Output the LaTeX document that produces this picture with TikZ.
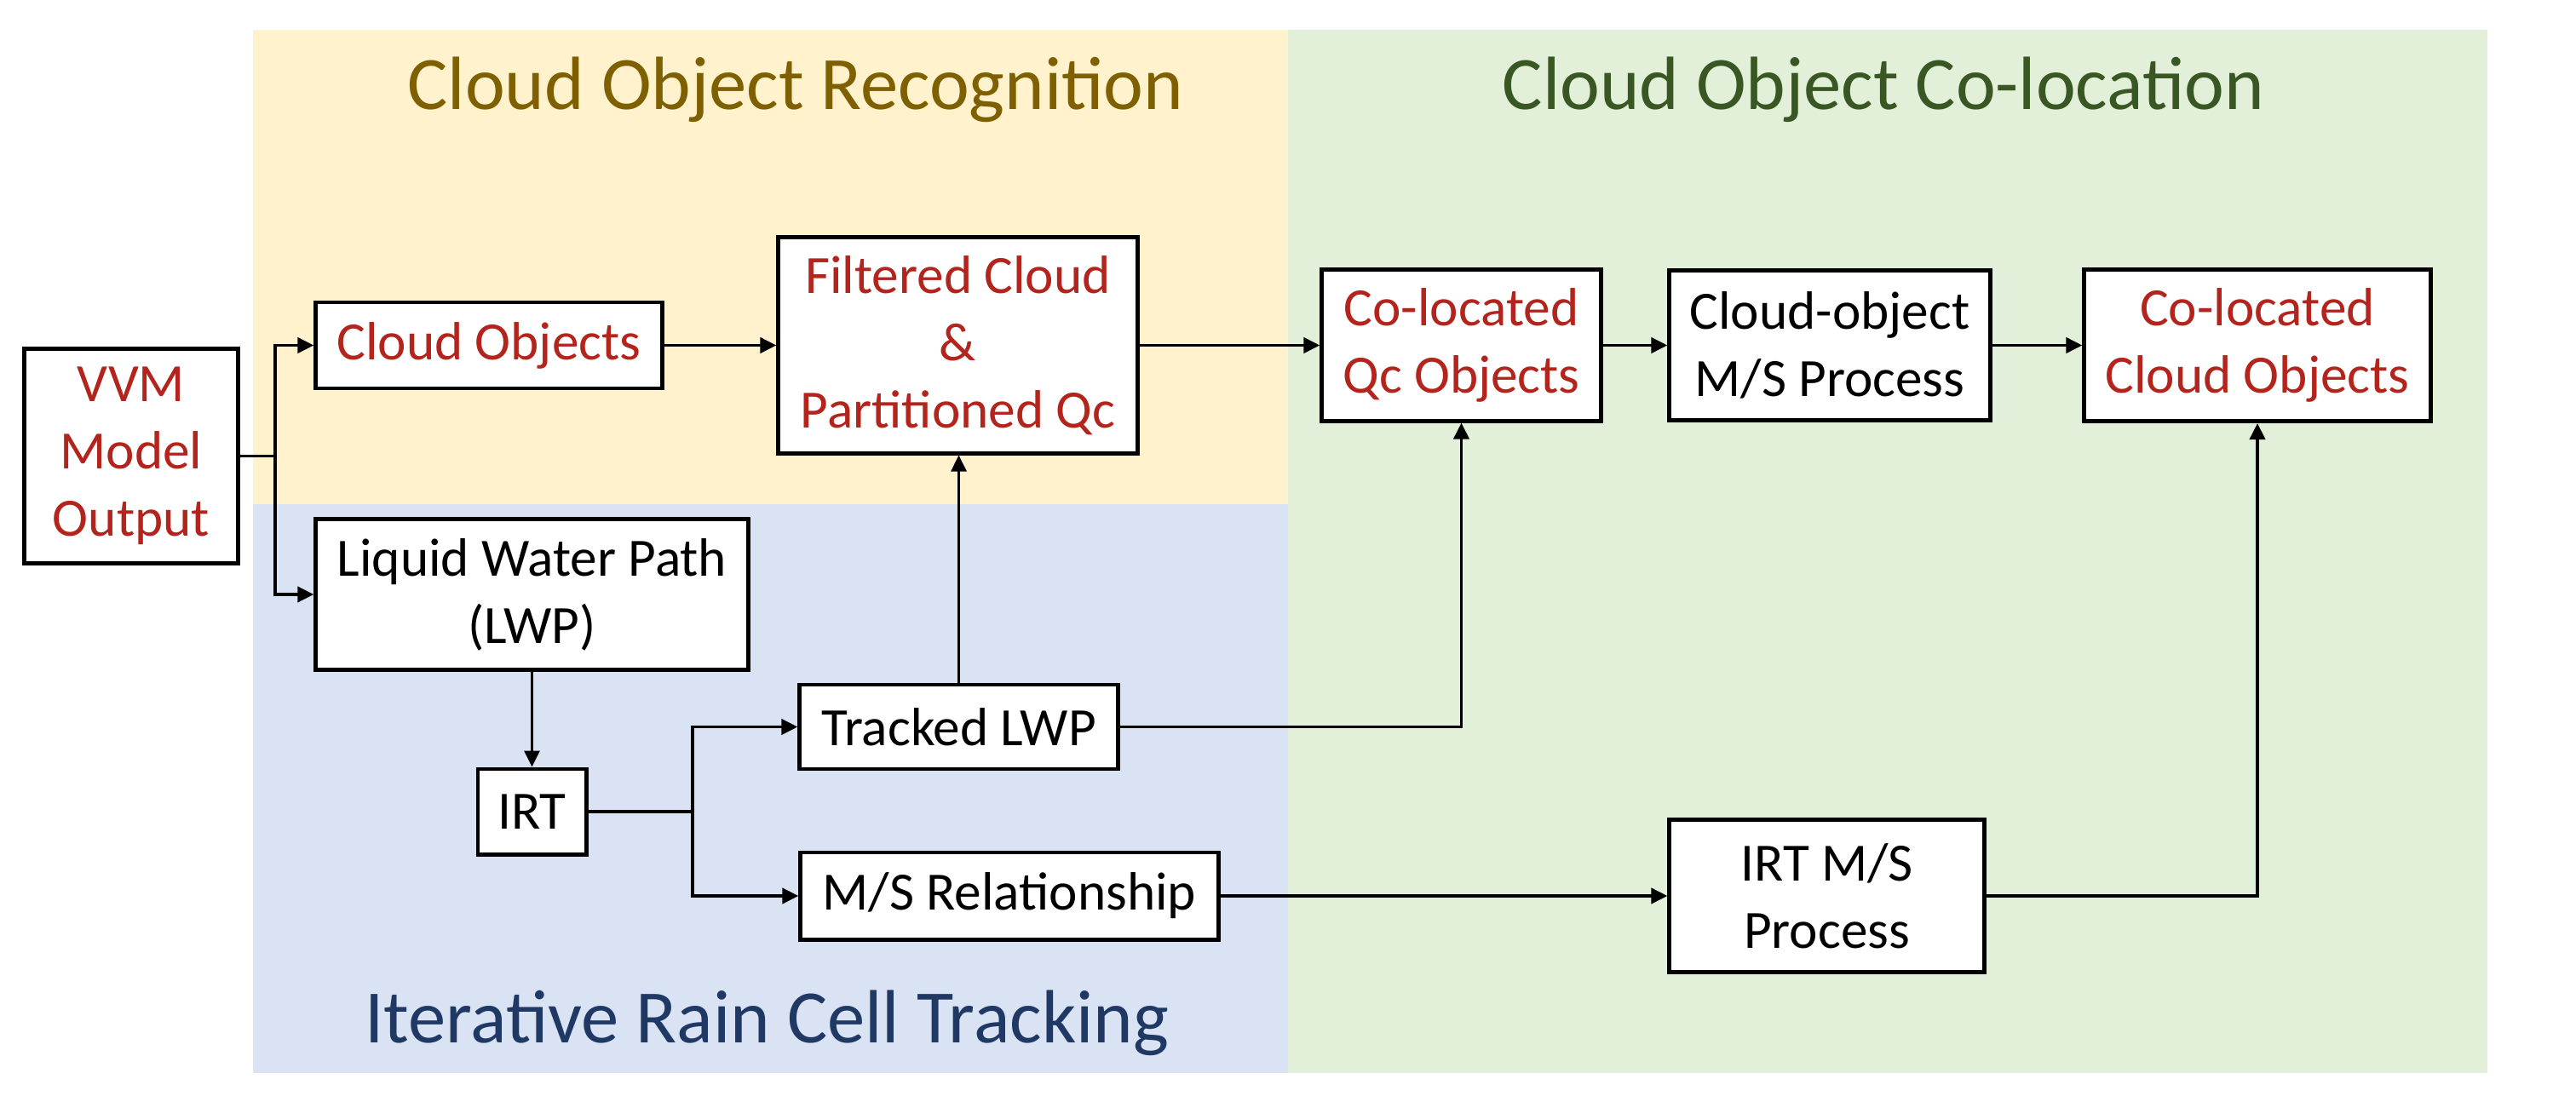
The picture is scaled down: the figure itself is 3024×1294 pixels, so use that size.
\documentclass[tikz,border=0pt]{standalone}
\usepackage{fontspec}
\setmainfont{Carlito}
\usetikzlibrary{arrows.meta}
\definecolor{redtxt}{RGB}{178,36,28}
\definecolor{tone}{RGB}{127,96,0}
\definecolor{ttwo}{RGB}{56,87,35}
\definecolor{tthree}{RGB}{32,56,100}
\definecolor{bgyel}{RGB}{255,242,204}
\definecolor{bgblue}{RGB}{218,227,243}
\definecolor{bggreen}{RGB}{226,240,217}
\tikzset{
  box/.style={draw=black, line width=1.4pt, fill=white, inner sep=0pt, align=center,
    font=\fontsize{18}{22.5}\selectfont},
  redbox/.style={box, text=redtxt},
  title/.style={anchor=base, inner sep=0pt, font=\fontsize{25.2}{30}\selectfont},
  conn/.style={line width=1.1pt},
  arr/.style={conn, -{Triangle[length=0.19cm,width=0.18cm]}},
  thinarr/.style={line width=0.8pt, -{Triangle[length=0.19cm,width=0.18cm]}}
}
\begin{document}
\begin{tikzpicture}[x=0.01cm, y=-0.01cm]
\useasboundingbox (0,0) rectangle (3024,1294);
% panels
\fill[bgyel] (297,35) rectangle (1512,592);
\fill[bgblue] (297,592) rectangle (1512,1260);
\fill[bggreen] (1512,35) rectangle (2920,1260);
% titles
\node[title, text=tone] (t1) at (934,129) {Cloud Object Recognition};
\node[title, text=ttwo] (t2) at (2211,129) {Cloud Object Co-location};
\node[title, text=tthree] (t3) at (900,1224) {Iterative Rain Cell Tracking};
% boxes
\node[redbox, minimum width=2.50cm, minimum height=2.51cm] (vvm) at (154,535.5) {VVM\\Model\\Output};
\node[redbox, minimum width=4.06cm, minimum height=1.01cm] (cobj) at (574,405.5) {Cloud Objects};
\node[redbox, minimum width=4.21cm, minimum height=2.53cm] (filt) at (1124.5,405.5) {Filtered Cloud\\\&\\Partitioned Qc};
\node[redbox, minimum width=3.27cm, minimum height=1.77cm] (qc) at (1715.5,405.5) {Co-located\\Qc Objects};
\node[box, minimum width=3.76cm, minimum height=1.76cm] (cms) at (2148,405.5) {Cloud-object\\M/S Process};
\node[redbox, minimum width=4.06cm, minimum height=1.78cm] (cco) at (2650,405.5) {Co-located\\Cloud Objects};
\node[box, minimum width=5.07cm, minimum height=1.76cm] (lwp) at (624.5,698) {Liquid Water Path\\(LWP)};
\node[box, minimum width=1.27cm, minimum height=1.00cm] (irt) at (624.5,953) {IRT};
\node[box, minimum width=3.73cm, minimum height=0.99cm] (tlwp) at (1125.5,853.5) {Tracked LWP};
\node[box, minimum width=4.90cm, minimum height=1.02cm] (msr) at (1185,1052) {M/S Relationship};
\node[box, minimum width=3.69cm, minimum height=1.78cm] (irtms) at (2144.5,1052) {IRT M/S\\Process};
% junctions
\coordinate (s1) at (323,535.5);
\coordinate (s2) at (813,953);
% connectors
\draw[conn] (vvm.east) -- (s1);
\draw[arr] (s1) |- (cobj.west);
\draw[arr] (s1) |- (lwp.west);
\draw[arr] (cobj.east) -- (filt.west);
\draw[arr] (filt.east) -- (qc.west);
\draw[arr] (qc.east) -- (cms.west);
\draw[arr] (cms.east) -- (cco.west);
\draw[thinarr] (lwp.south) -- (irt.north);
\draw[conn] (irt.east) -- (s2);
\draw[arr] (s2) |- (tlwp.west);
\draw[arr] (s2) |- (msr.west);
\draw[thinarr] (tlwp.north) -- (tlwp.north |- filt.south);
\draw[arr] (tlwp.east) -| (qc.south);
\draw[arr] (msr.east) -- (irtms.west);
\draw[arr] (irtms.east) -| (cco.south);
\end{tikzpicture}
\end{document}
